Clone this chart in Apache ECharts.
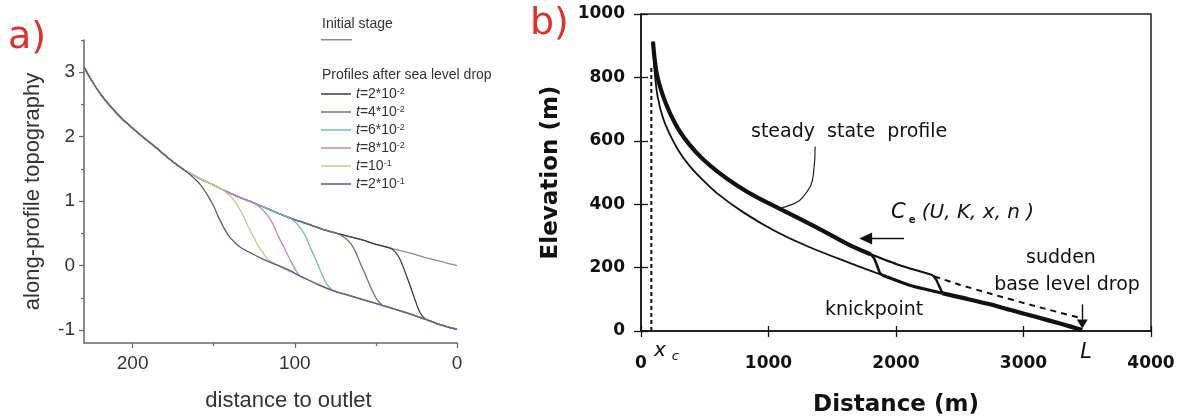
<!DOCTYPE html>
<html><head><meta charset="utf-8">
<script src="https://cdn.jsdelivr.net/npm/echarts@6/dist/echarts.min.js"></script>
<style>html,body{margin:0;padding:0;background:#fff}#c{width:1179px;height:418px}</style>
</head><body><div id="c"></div>
<script>
// ---------- Panel a data (distance to outlet, along-profile topography) ----------
const aXTicks = [0, 100, 200];
const aXMinorTicks = [50, 150];
const aYTicks = [-1, 0, 1, 2, 3];
const aYMinorTicks = [-0.5, 0.5, 1.5, 2.5, 3.5];
const aInitial = [[0,0],[10,0.065],[20,0.13],[30,0.2],[41,0.27],[50,0.33],[60,0.41],[74,0.5],[81,0.55],[90,0.63],[101,0.72],[112,0.83],[124,0.96],[135,1.07],[144,1.17],[150,1.25],[157,1.33],[163,1.41],[168,1.48],[173,1.57],[179,1.69],[186,1.84],[193,1.98],[200,2.13],[207,2.29],[214,2.48],[220,2.67],[225,2.86],[230,3.08]];
const aLower = [[0,-0.99],[10,-0.92],[18.5,-0.84],[30,-0.74],[45.5,-0.62],[60,-0.51],[76,-0.39],[86,-0.29],[96,-0.17],[104,-0.08],[110,-0.02]];
const tNames = ['t=2*10^-2','t=4*10^-2','t=6*10^-2','t=8*10^-2','t=10^-1','t=2*10^-1'];
const knick_t1 = [[19,-0.835],[21.5,-0.78],[23.7,-0.68],[26,-0.52],[28.8,-0.32],[32,-0.1],[35,0.09],[38,0.21],[41.5,0.275]];
const knick_t2 = [[46.5,-0.605],[49.5,-0.52],[53.5,-0.32],[56.5,-0.14],[59.7,0.04],[62.5,0.21],[65.5,0.34],[69,0.43],[74.5,0.505]];
const knick_t3 = [[77,-0.38],[80.5,-0.28],[84.4,-0.07],[87.5,0.12],[90.6,0.29],[93.5,0.46],[96.7,0.59],[100,0.68],[104,0.75]];
const knick_t4 = [[97,-0.16],[99.5,-0.07],[102,0.05],[104.5,0.17],[107,0.3],[110.1,0.45],[113,0.62],[116.3,0.76],[120,0.87],[125,0.965]];
const knick_t5 = [[105,-0.07],[108,-0.035],[112,0.03],[116.3,0.09],[119.4,0.19],[122.5,0.3],[125.5,0.45],[128.6,0.6],[131.5,0.76],[134.8,0.91],[139,1.06],[145,1.18]];
const knick_t6 = [[97,-0.16],[102,-0.09],[108,-0.02],[114,0.04],[120.4,0.11],[126,0.18],[132.7,0.27],[137,0.36],[141,0.47],[144,0.6],[147.2,0.76],[150,0.92],[153.3,1.07],[158,1.25],[163.6,1.39],[168,1.48]];

// ---------- Panel b data (Distance (m), Elevation (m)) ----------
const bSteady = [[94,913],[100,885],[108,855],[120,820],[135,792],[150,770],[183,730],[230,685],[300,632],[380,588],[478,545],[600,503],[750,460],[900,424],[1078,388],[1250,353],[1450,311],[1640,270],[1802,242]];
const bUpperThin = [[1802,242],[2024,208],[2290,176]];
const bDashed = [[2300,172],[2500,146],[2730,119],[3095,78],[3440,42]];
const bLowerThin = [[94,913],[100,860],[110,805],[130,740],[170,675],[217,628],[290,572],[373,525],[480,478],[595,435],[800,375],[1039,318],[1300,268],[1640,214],[1894,176]];
const bKnick1 = [[1802,242],[1830,228],[1850,208],[1872,184],[1894,176]];
const bMid = [[1894,176],[2129,142],[2364,119]];
const bKnick2 = [[2290,176],[2318,160],[2340,140],[2364,119]];
const bLowerThick = [[2364,119],[2550,102],[2730,85],[2900,66],[3095,45],[3300,22],[3461,3]];
const bXc = [[81,0],[81,835]];
const bLeader = [[1366,581],[1353,497],[1274,424],[1170,397],[1078,388]];
const bArrowCe = [[2063,292],[1762,292]];
const bArrowL = [[3461,84],[3461,22]];

// ---------- styles ----------
const tColors = ['#3c3c44','#6a6c9c','#6bbdbb','#c483c4','#cbc48a','#585a7e'];
const knicks = [knick_t1, knick_t2, knick_t3, knick_t4, knick_t5, knick_t6];
const FA = 'Liberation Sans, Arial, sans-serif';
const FB = 'DejaVu Sans, sans-serif';
const plain = v => String(v);

function composeCurve(seg) {
  const x0 = seg[0][0], x1 = seg[seg.length - 1][0];
  return aLower.filter(p => p[0] < x0).concat(seg, aInitial.filter(p => p[0] > x1));
}

const chart = echarts.init(document.getElementById('c'), null, {renderer: 'canvas'});

const noSplit = {show: false};
const aSmooth = {symbol: 'none', smooth: 0.3};
const series = [];
series.push(Object.assign({type: 'line', name: 'Initial stage', xAxisIndex: 0, yAxisIndex: 0, data: aInitial,
  color: '#8c8c8c', lineStyle: {color: '#8c8c8c', width: 1.3}}, aSmooth));
tNames.forEach((n, i) => {
  series.push(Object.assign({type: 'line', name: n, xAxisIndex: 0, yAxisIndex: 0, data: composeCurve(knicks[i]),
    color: tColors[i], lineStyle: {color: tColors[i], width: 1.3}}, aSmooth));
});
function bLine(data, width, extra) {
  return Object.assign({type: 'line', xAxisIndex: 1, yAxisIndex: 1, data: data, symbol: 'none',
    silent: true, lineStyle: {color: '#111', width: width}}, extra || {});
}
series.push(bLine(bLowerThin, 1.8, {smooth: 0.35}));
series.push(bLine(bSteady, 4.2, {smooth: 0.35}));
series.push(bLine(bUpperThin, 2, {smooth: 0.2}));
series.push(bLine(bKnick1, 2.6));
series.push(bLine(bMid, 3.2, {smooth: 0.2}));
series.push(bLine(bKnick2, 2.4));
series.push(bLine(bLowerThick, 4.2, {smooth: 0.2}));
series.push(bLine(bDashed, 2, {smooth: 0.2, lineStyle: {color: '#111', width: 2, type: [6, 5]}}));
series.push(bLine(bXc, 2, {lineStyle: {color: '#111', width: 2, type: [4, 3]}}));
series.push(bLine(bLeader, 1.2, {smooth: 0.5, lineStyle: {color: '#222', width: 1.2}}));
series.push(bLine([], 1, {markLine: {silent: true, symbol: ['none', 'triangle'], symbolSize: [12, 13],
  label: {show: false}, lineStyle: {color: '#111', width: 1.4, type: 'solid'},
  data: [[{coord: bArrowCe[0]}, {coord: bArrowCe[1]}]]}}));
series.push(bLine([], 1, {markLine: {silent: true, symbol: ['none', 'triangle'], symbolSize: [11, 9],
  label: {show: false}, lineStyle: {color: '#111', width: 1.4, type: 'solid'},
  data: [[{coord: bArrowL[0]}, {coord: bArrowL[1]}]]}}));

function legendRich(name) {
  const parts = name.split('^');
  return '{i|t}{n|' + parts[0].slice(1) + '}{s|' + parts[1] + '}';
}

const gridBase = {containLabel: false, outerBoundsMode: 'none'};
const option = {
  animation: false,
  backgroundColor: '#fff',
  grid: [
    Object.assign({left: 84, top: 40, width: 373, height: 303}, gridBase),
    Object.assign({left: 641, top: 14, width: 510, height: 317, show: true, borderColor: '#222', borderWidth: 1.5, backgroundColor: 'transparent'}, gridBase),
    Object.assign({left: 84, top: 40, width: 373, height: 303}, gridBase),
    Object.assign({left: 641, top: 14, width: 510, height: 317}, gridBase)
  ],
  xAxis: [
    {gridIndex: 0, type: 'value', inverse: true, min: 0, max: 230, splitLine: noSplit,
      axisLine: {onZero: false, lineStyle: {color: '#666', width: 1.5}},
      axisTick: {length: 5, customValues: aXTicks, lineStyle: {color: '#666', width: 1.2}},
      axisLabel: {customValues: aXTicks, formatter: plain, fontSize: 19, color: '#333', margin: 11, fontFamily: FA},
      name: 'distance to outlet', nameLocation: 'middle', nameGap: 47,
      nameTextStyle: {fontSize: 22, color: '#333', fontFamily: FA, padding: [0, 0, 0, 36]}},
    {gridIndex: 1, type: 'value', min: 0, max: 4000, interval: 1000, splitLine: noSplit,
      axisLine: {onZero: false, lineStyle: {color: '#111', width: 1.5}},
      axisTick: {length: 6, lineStyle: {color: '#111', width: 1.3}},
      axisLabel: {formatter: plain, fontSize: 17, fontWeight: 'bold', color: '#111', margin: 24, fontFamily: FB},
      name: 'Distance (m)', nameLocation: 'middle', nameGap: 63,
      nameTextStyle: {fontSize: 23, fontWeight: 'bold', color: '#111', fontFamily: FB}},
    {gridIndex: 2, type: 'value', inverse: true, min: 0, max: 230, splitLine: noSplit,
      axisLine: {show: false, onZero: false}, axisLabel: {show: false},
      axisTick: {length: 3, customValues: aXMinorTicks, lineStyle: {color: '#666', width: 1.2}}},
    {gridIndex: 3, type: 'value', min: 0, max: 4000, interval: 1000, splitLine: noSplit,
      axisLine: {show: false, onZero: false}, axisLabel: {show: false},
      axisTick: {inside: true, length: 5, lineStyle: {color: '#111', width: 1.3}}}
  ],
  yAxis: [
    {gridIndex: 0, type: 'value', min: -1.2, max: 3.5, splitLine: noSplit,
      axisLine: {show: true, onZero: false, lineStyle: {color: '#666', width: 1.5}},
      axisTick: {show: true, length: 5, customValues: aYTicks, lineStyle: {color: '#666', width: 1.2}},
      axisLabel: {customValues: aYTicks, formatter: plain, fontSize: 19, color: '#333', margin: 9, fontFamily: FA},
      name: 'along-profile topography', nameLocation: 'middle', nameGap: 40,
      nameTextStyle: {fontSize: 22, color: '#333', fontFamily: FA}},
    {gridIndex: 1, type: 'value', min: 0, max: 1000, interval: 200, splitLine: noSplit,
      axisLine: {show: true, onZero: false, lineStyle: {color: '#111', width: 1.5}},
      axisTick: {show: true, length: 7, lineStyle: {color: '#111', width: 1.3}},
      axisLabel: {formatter: plain, fontSize: 17, fontWeight: 'bold', color: '#111', margin: 16, fontFamily: FB},
      name: 'Elevation (m)', nameLocation: 'middle', nameGap: 78,
      nameTextStyle: {fontSize: 23, fontWeight: 'bold', color: '#111', fontFamily: FB}},
    {gridIndex: 2, type: 'value', min: -1.2, max: 3.5, splitLine: noSplit,
      axisLine: {show: false, onZero: false}, axisLabel: {show: false},
      axisTick: {show: true, length: 3, customValues: aYMinorTicks, lineStyle: {color: '#666', width: 1.2}}},
    {gridIndex: 3, type: 'value', min: 0, max: 1000, interval: 200, splitLine: noSplit,
      axisLine: {show: false, onZero: false}, axisLabel: {show: false},
      axisTick: {show: true, inside: true, length: 7, lineStyle: {color: '#111', width: 1.3}}}
  ],
  legend: [
    {data: ['Initial stage'], left: 321, top: 39, padding: 0, orient: 'vertical', icon: 'rect',
      itemWidth: 31, itemHeight: 1.5, selectedMode: false, formatter: () => '', textStyle: {fontSize: 1, lineHeight: 1}},
    {data: tNames, left: 321, top: 87, padding: 0, orient: 'vertical', icon: 'rect',
      itemWidth: 30, itemHeight: 1.5, itemGap: 4, selectedMode: false, formatter: legendRich,
      textStyle: {fontSize: 14, color: '#333', fontFamily: FA, lineHeight: 16,
        rich: {
          i: {fontSize: 14, fontStyle: 'italic', color: '#333', fontFamily: FA, lineHeight: 14, verticalAlign: 'bottom'},
          n: {fontSize: 14, color: '#333', fontFamily: FA, lineHeight: 14, verticalAlign: 'bottom'},
          s: {fontSize: 9, color: '#333', fontFamily: FA, lineHeight: 10, verticalAlign: 'top'}
        }}}
  ],
  graphic: [
    {type: 'text', x: 8, y: 38, style: {text: 'a)', fontSize: 38, fontFamily: FB, fill: '#e0302a', textVerticalAlign: 'middle', verticalAlign: 'middle'}},
    {type: 'text', x: 530, y: 24, style: {text: 'b)', fontSize: 38, fontFamily: FB, fill: '#e0302a', textVerticalAlign: 'middle', verticalAlign: 'middle'}},
    {type: 'text', x: 322, y: 24, style: {text: 'Initial stage', fontSize: 14, fontFamily: FA, fill: '#333', textVerticalAlign: 'middle', verticalAlign: 'middle'}},
    {type: 'text', x: 322, y: 75, style: {text: 'Profiles after sea level drop', fontSize: 14, fontFamily: FA, fill: '#333', textVerticalAlign: 'middle', verticalAlign: 'middle'}},
    {type: 'text', x: 751, y: 132, style: {text: 'steady  state  profile', fontSize: 19, fontFamily: FB, fill: '#111', textVerticalAlign: 'middle', verticalAlign: 'middle'}},
    {type: 'text', x: 891, y: 213, style: {text: '{c|C}{e|e}{r| (U, K, x, n )}', fontFamily: FB, fill: '#111', textVerticalAlign: 'middle', verticalAlign: 'middle',
      rich: {c: {fontSize: 21, fontStyle: 'italic', fontFamily: FB, lineHeight: 24, verticalAlign: 'middle'},
             e: {fontSize: 10, fontWeight: 'bold', fontFamily: FB, lineHeight: 12, verticalAlign: 'bottom', padding: [0, 0, 0, 3]},
             r: {fontSize: 20, fontStyle: 'italic', fontFamily: FB, lineHeight: 24, verticalAlign: 'middle'}}}},
    {type: 'text', x: 1061, y: 258, style: {text: 'sudden', fontSize: 19, fontFamily: FB, fill: '#111', textAlign: 'center', align: 'center', textVerticalAlign: 'middle', verticalAlign: 'middle'}},
    {type: 'text', x: 1067, y: 285, style: {text: 'base level drop', fontSize: 19, fontFamily: FB, fill: '#111', textAlign: 'center', align: 'center', textVerticalAlign: 'middle', verticalAlign: 'middle'}},
    {type: 'text', x: 825, y: 310, style: {text: 'knickpoint', fontSize: 19, fontFamily: FB, fill: '#111', textVerticalAlign: 'middle', verticalAlign: 'middle'}},
    {type: 'text', x: 654, y: 352, style: {text: '{x|x}{c|c}', fontFamily: FB, fill: '#111', textVerticalAlign: 'middle', verticalAlign: 'middle',
      rich: {x: {fontSize: 20, fontStyle: 'italic', fontFamily: FB, lineHeight: 22, verticalAlign: 'top'},
             c: {fontSize: 13, fontStyle: 'italic', fontFamily: FB, lineHeight: 14, verticalAlign: 'bottom', padding: [0, 0, 0, 6]}}}},
    {type: 'text', x: 1086, y: 353, style: {text: 'L', fontSize: 21, fontStyle: 'italic', fontFamily: FB, fill: '#111', textAlign: 'center', align: 'center', textVerticalAlign: 'middle', verticalAlign: 'middle'}}
  ],
  series: series
};
chart.setOption(option);
</script>
</body></html>
